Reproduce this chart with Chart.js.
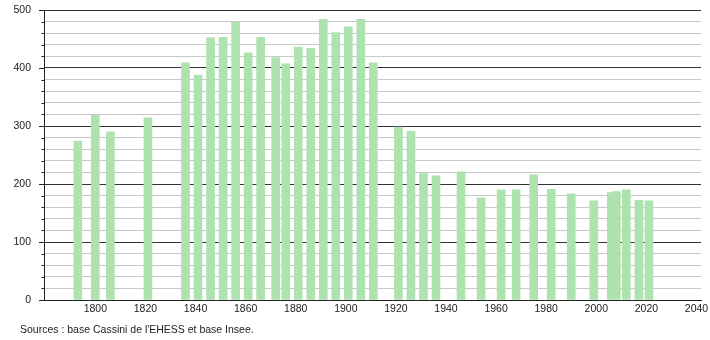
<!DOCTYPE html>
<html>
<head>
<meta charset="utf-8">
<script src="https://cdn.jsdelivr.net/npm/chart.js@4/dist/chart.umd.min.js"></script>
<style>
  html, body { margin: 0; padding: 0; background: #fff; }
  #wrap { position: relative; width: 710px; height: 340px; }
  #c { position: absolute; left: 0; top: 0; }
  #src { position: absolute; left: 20px; top: 323px; font: 10.5px "Liberation Sans", Arial, sans-serif; color: #222; white-space: nowrap; }
</style>
</head>
<body>
<div id="wrap">
  <canvas id="c" width="710" height="340"></canvas>
  <div id="src">Sources : base Cassini de l'EHESS et base Insee.</div>
</div>
<script>
const years = [1793,1800,1806,1821,1836,1841,1846,1851,1856,1861,1866,1872,1876,1881,1886,1891,1896,1901,1906,1911,1921,1926,1931,1936,1946,1954,1962,1968,1975,1982,1990,1999,2006,2008,2012,2017,2021];
const population = [274,319,290,314,409,388,452,453,479,426,453,418,407,436,434,484,461,471,484,409,298,291,218,214,221,176,190,190,216,191,183,171,185,187,190,172,171];
const xTickYears = [1800,1820,1840,1860,1880,1900,1920,1940,1960,1980,2000,2020,2040];
const yTickValues = [0,100,200,300,400,500];

const FONT = { family: '"Liberation Sans", Arial, sans-serif', size: 10.5 };

const tickMarks = {
  id: 'tickMarks',
  afterDraw(chart) {
    const y = chart.scales.y;
    const ctx = chart.ctx;
    ctx.save();
    ctx.strokeStyle = '#222';
    ctx.lineWidth = 1;
    for (let v = 0; v <= 500; v += 20) {
      const py = Math.round(y.getPixelForValue(v)) + 0.5;
      const len = (v % 100 === 0) ? 5 : 2.5;
      ctx.beginPath();
      ctx.moveTo(y.right - len, py);
      ctx.lineTo(y.right, py);
      ctx.stroke();
    }
    const px = Math.round(y.right) + 0.5;
    ctx.beginPath();
    ctx.moveTo(px, chart.chartArea.top);
    ctx.lineTo(px, chart.chartArea.bottom);
    ctx.stroke();
    ctx.restore();
  }
};

new Chart(document.getElementById('c'), {
  type: 'bar',
  data: {
    datasets: [{
      data: years.map((yr, i) => ({ x: yr, y: population[i] })),
      backgroundColor: 'rgb(174,226,174)',
      borderWidth: 0,
      barThickness: 8
    }]
  },
  options: {
    responsive: false,
    animation: false,
    events: [],
    layout: { padding: { left: 0, top: 10, right: 9, bottom: 0 } },
    plugins: { legend: { display: false }, tooltip: { enabled: false }, title: { display: false } },
    scales: {
      x: {
        type: 'linear',
        min: 1779.5,
        max: 2041.8,
        offset: false,
        afterBuildTicks(scale) { scale.ticks = xTickYears.map(v => ({ value: v })); },
        afterFit(scale) { scale.height = 40; scale.paddingLeft = 0; scale.paddingRight = 0; },
        grid: { display: false, drawTicks: false },
        border: { display: true, color: '#222', width: 1 },
        ticks: { font: FONT, color: '#222', padding: 3, maxRotation: 0, autoSkip: false, callback: (v) => String(v) }
      },
      y: {
        min: 0,
        max: 500,
        afterFit(scale) { scale.width = 44; scale.paddingTop = 0; scale.paddingBottom = 0; },
        grid: {
          drawTicks: false,
          color: (c) => (c.tick && c.tick.value % 100 === 0) ? '#333' : '#c8c8c8',
          lineWidth: 1
        },
        border: { display: true, color: '#222', width: 1 },
        ticks: {
          stepSize: 20,
          font: FONT,
          color: '#222',
          padding: 13,
          autoSkip: false,
          callback: (v) => yTickValues.includes(v) ? String(v) : ''
        }
      }
    }
  },
  plugins: [tickMarks]
});
</script>
</body>
</html>
